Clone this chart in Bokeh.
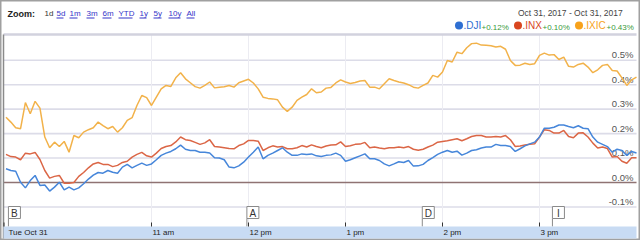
from bokeh.plotting import figure
from bokeh.models import Range1d
from bokeh.core.properties import value
from bokeh.embed import file_html
from bokeh.resources import INLINE

# ---------------- data ----------------
minutes = list(range(0, 391, 3))  # minutes after 9:30 am

dji = [0.056, 0.049, 0.046, 0.001, -0.022, 0.008, 0.029, -0.012, -0.010, -0.035,
       -0.019, 0.001, -0.030, -0.019, -0.030, -0.022, -0.005, 0.014, 0.030, 0.041,
       0.038, 0.049, 0.042, 0.038, 0.063, 0.074, 0.060, 0.070, 0.079, 0.070,
       0.076, 0.093, 0.111, 0.120, 0.127, 0.138, 0.153, 0.136, 0.131, 0.131,
       0.124, 0.124, 0.121, 0.101, 0.100, 0.093, 0.063, 0.060, 0.068, 0.083,
       0.104, 0.124, 0.145, 0.097, 0.111, 0.120, 0.131, 0.142, 0.124, 0.111,
       0.111, 0.117, 0.115, 0.117, 0.109, 0.106, 0.111, 0.113, 0.120, 0.111,
       0.087, 0.093, 0.101, 0.109, 0.117, 0.097, 0.097, 0.090, 0.076, 0.068,
       0.076, 0.085, 0.082, 0.090, 0.067, 0.068, 0.074, 0.090, 0.102, 0.115,
       0.124, 0.131, 0.124, 0.128, 0.112, 0.120, 0.131, 0.134, 0.141, 0.145,
       0.145, 0.156, 0.151, 0.151, 0.147, 0.127, 0.138, 0.150, 0.158, 0.165,
       0.186, 0.222, 0.222, 0.226, 0.235, 0.235, 0.229, 0.224, 0.232, 0.222,
       0.220, 0.186, 0.165, 0.156, 0.147, 0.124, 0.136, 0.131, 0.111, 0.127,
       0.121]

inx = [0.115, 0.106, 0.104, 0.093, 0.120, 0.117, 0.123, 0.094, 0.049, 0.018,
       0.025, 0.029, -0.003, -0.003, 0.000, 0.025, 0.041, 0.060, 0.076, 0.082,
       0.074, 0.074, 0.065, 0.070, 0.082, 0.087, 0.104, 0.115, 0.123, 0.109,
       0.104, 0.120, 0.139, 0.147, 0.151, 0.166, 0.186, 0.175, 0.172, 0.164,
       0.156, 0.162, 0.175, 0.147, 0.145, 0.142, 0.139, 0.138, 0.151, 0.158,
       0.172, 0.172, 0.169, 0.131, 0.142, 0.150, 0.145, 0.147, 0.138, 0.138,
       0.142, 0.151, 0.145, 0.154, 0.147, 0.142, 0.149, 0.153, 0.154, 0.166,
       0.147, 0.150, 0.156, 0.157, 0.164, 0.142, 0.145, 0.141, 0.138, 0.142,
       0.142, 0.145, 0.142, 0.147, 0.136, 0.132, 0.136, 0.145, 0.153, 0.165,
       0.168, 0.171, 0.175, 0.179, 0.171, 0.179, 0.188, 0.192, 0.192, 0.186,
       0.186, 0.188, 0.186, 0.192, 0.175, 0.147, 0.149, 0.153, 0.156, 0.158,
       0.186, 0.216, 0.213, 0.202, 0.202, 0.213, 0.188, 0.183, 0.202, 0.203,
       0.186, 0.161, 0.141, 0.145, 0.139, 0.104, 0.106, 0.087, 0.079, 0.101,
       0.101]

ixic = [0.267, 0.247, 0.224, 0.220, 0.327, 0.281, 0.332, 0.304, 0.186, 0.142,
        0.165, 0.147, 0.168, 0.124, 0.192, 0.183, 0.206, 0.216, 0.224, 0.247,
        0.233, 0.220, 0.229, 0.206, 0.224, 0.254, 0.265, 0.315, 0.356, 0.347,
        0.315, 0.349, 0.383, 0.397, 0.393, 0.428, 0.449, 0.424, 0.408, 0.392,
        0.386, 0.397, 0.411, 0.387, 0.390, 0.392, 0.397, 0.390, 0.408, 0.415,
        0.422, 0.407, 0.383, 0.349, 0.344, 0.342, 0.338, 0.308, 0.291, 0.308,
        0.336, 0.349, 0.360, 0.383, 0.367, 0.370, 0.386, 0.389, 0.407, 0.420,
        0.411, 0.405, 0.409, 0.415, 0.417, 0.390, 0.390, 0.383, 0.404, 0.424,
        0.417, 0.411, 0.407, 0.400, 0.390, 0.386, 0.397, 0.407, 0.438, 0.431,
        0.452, 0.499, 0.493, 0.533, 0.527, 0.551, 0.568, 0.570, 0.562, 0.561,
        0.559, 0.554, 0.557, 0.545, 0.499, 0.479, 0.480, 0.488, 0.483, 0.486,
        0.520, 0.529, 0.521, 0.523, 0.503, 0.513, 0.475, 0.472, 0.483, 0.488,
        0.472, 0.449, 0.461, 0.479, 0.483, 0.458, 0.456, 0.428, 0.397, 0.420,
        0.431]

series_names = [".DJI", ".INX", ".IXIC"]
series_changes = ["+0.12%", "+0.10%", "+0.43%"]
y_ticks = [-0.1, 0.0, 0.1, 0.2, 0.3, 0.4, 0.5]
y_tick_labels = ["-0.1%", "0.0%", "0.1%", "0.2%", "0.3%", "0.4%", "0.5%"]
hour_ticks = [90, 150, 210, 270, 330]
hour_labels = ["11 am", "12 pm", "1 pm", "2 pm", "3 pm"]
day_label = "Tue Oct 31"
flag_letters = ["B", "A", "D", "I"]
flag_times = [1.5, 149, 257.5, 338]
zoom_links = ["1d", "5d", "1m", "3m", "6m", "YTD", "1y", "5y", "10y", "All"]
date_range_text = "Oct 31, 2017  -  Oct 31, 2017"

# ---------------- layout (pixels) ----------------
W, H = 640, 240
X0, PPM = 5.5, 97.0 / 60.0      # px of 9:30, px per minute
Y0, PPP = 182.0, 244.5          # px of 0 %, px per 1 %
L, R, T, B0, B1 = 3, 636, 34, 226, 238

def X(px):
    return (px - X0) / PPM

def Y(py):
    return (Y0 - py) / PPP

FONT = value("Liberation Sans")
colors = ["#4686da", "#db6646", "#f2b24a"]
dot_colors = ["#2f6fd2", "#d9461f", "#f7a21b"]

p = figure(width=W, height=H, x_range=Range1d(X(0), X(W)), y_range=Range1d(Y(H), Y(0)),
           x_axis_type=None, y_axis_type=None, toolbar_location=None,
           output_backend="svg", min_border=0)
p.outline_line_color = "#a0a0a0"
p.outline_line_width = 2
p.background_fill_color = "white"
p.border_fill_color = "white"

# grid
grid_vals = [t for t in y_ticks if t != 0.0]
p.segment(x0=X(L), x1=X(R), y0=grid_vals, y1=grid_vals, line_color="#dcdce8", line_width=1.6)
p.segment(x0=hour_ticks, x1=hour_ticks, y0=Y(T), y1=Y(B0), line_color="#ececf2", line_width=1)
p.segment(x0=X(L), x1=X(R), y0=Y(T), y1=Y(T), line_color="#d2d2de", line_width=2.5)

# y labels (drawn under lines)
p.text(x=X(633), y=y_ticks, text=y_tick_labels, text_align="right", text_baseline="bottom",
       text_font=FONT, text_font_size="9.5px", text_color="#555555")

# zero line
p.segment(x0=X(L), x1=X(R), y0=0.0, y1=0.0, line_color="#8f7373", line_width=1.5)

# series
p.line(minutes, ixic, line_color=colors[2], line_width=1.5)
p.line(minutes, inx, line_color=colors[1], line_width=1.5)
p.line(minutes, dji, line_color=colors[0], line_width=1.5)

# left border
p.segment(x0=X(L), x1=X(L), y0=Y(T), y1=Y(B1), line_color="#8a8a8a", line_width=1.5)

# flags
fw = 12 / PPM
p.segment(x0=flag_times, x1=flag_times, y0=Y(218), y1=Y(B0), line_color="#8a8a8a", line_width=1)
p.quad(left=flag_times, right=[t + fw for t in flag_times], top=Y(206), bottom=Y(218),
       fill_color="white", line_color="#8a8a8a", line_width=1)
p.text(x=[t + fw / 2 for t in flag_times], y=Y(212.5), text=flag_letters, text_align="center",
       text_baseline="middle", text_font=FONT, text_font_size="10px", text_color="#333333")

# time axis band
p.quad(left=X(L), right=X(R), bottom=Y(B1), top=Y(B0), fill_color="#c8dbf3", line_color=None)
p.segment(x0=[X(L + 0.5)] + hour_ticks, x1=[X(L + 0.5)] + hour_ticks, y0=Y(222), y1=Y(B0),
          line_color="#333333", line_width=1)
p.text(x=hour_ticks, y=Y(232), text=hour_labels, text_align="left", text_baseline="middle",
       x_offset=1, text_font=FONT, text_font_size="8px", text_color="#222222")
p.text(x=X(8), y=Y(232), text=[day_label], text_align="left", text_baseline="middle",
       text_font=FONT, text_font_size="8px", text_color="#222222")

# header
p.text(x=X(7), y=Y(13), text=["Zoom:"], text_align="left", text_baseline="middle",
       text_font=FONT, text_font_size="9px", text_font_style="bold", text_color="#222222")
link_px = [44, 56, 69, 86, 102, 118, 139, 153, 168, 186]
link_w = [7, 7, 8, 8, 9, 14, 7, 8, 12, 8]
p.text(x=[X(v) for v in link_px], y=Y(13), text=zoom_links, text_align="left",
       text_baseline="middle", text_font=FONT, text_font_size="8px",
       text_color=["#333333"] + ["#3535c8"] * (len(zoom_links) - 1))
p.segment(x0=[X(v) for v in link_px[1:]], x1=[X(v + w) for v, w in zip(link_px[1:], link_w[1:])],
          y0=Y(17.5), y1=Y(17.5), line_color="#3535c8", line_width=1)

p.text(x=X(627), y=Y(12), text=[date_range_text], text_align="right", text_baseline="middle",
       text_font=FONT, text_font_size="8.5px", text_color="#444444")

dot_px = [458.5, 517.5, 578.5]
name_px = [463, 522, 583]
chg_px = [481, 542, 606]
p.scatter(x=[X(v) for v in dot_px], y=Y(25), size=8, color=dot_colors, line_color=None)
p.text(x=[X(v) for v in name_px], y=Y(24.5), text=series_names, text_align="left",
       text_baseline="middle", text_font=FONT, text_font_size="10px", text_color=dot_colors)
p.text(x=[X(v) for v in chg_px], y=Y(26.5), text=series_changes, text_align="left",
       text_baseline="middle", text_font=FONT, text_font_size="8px", text_color="#3a9a3a")

open("out.html", "w").write(file_html(p, INLINE))
